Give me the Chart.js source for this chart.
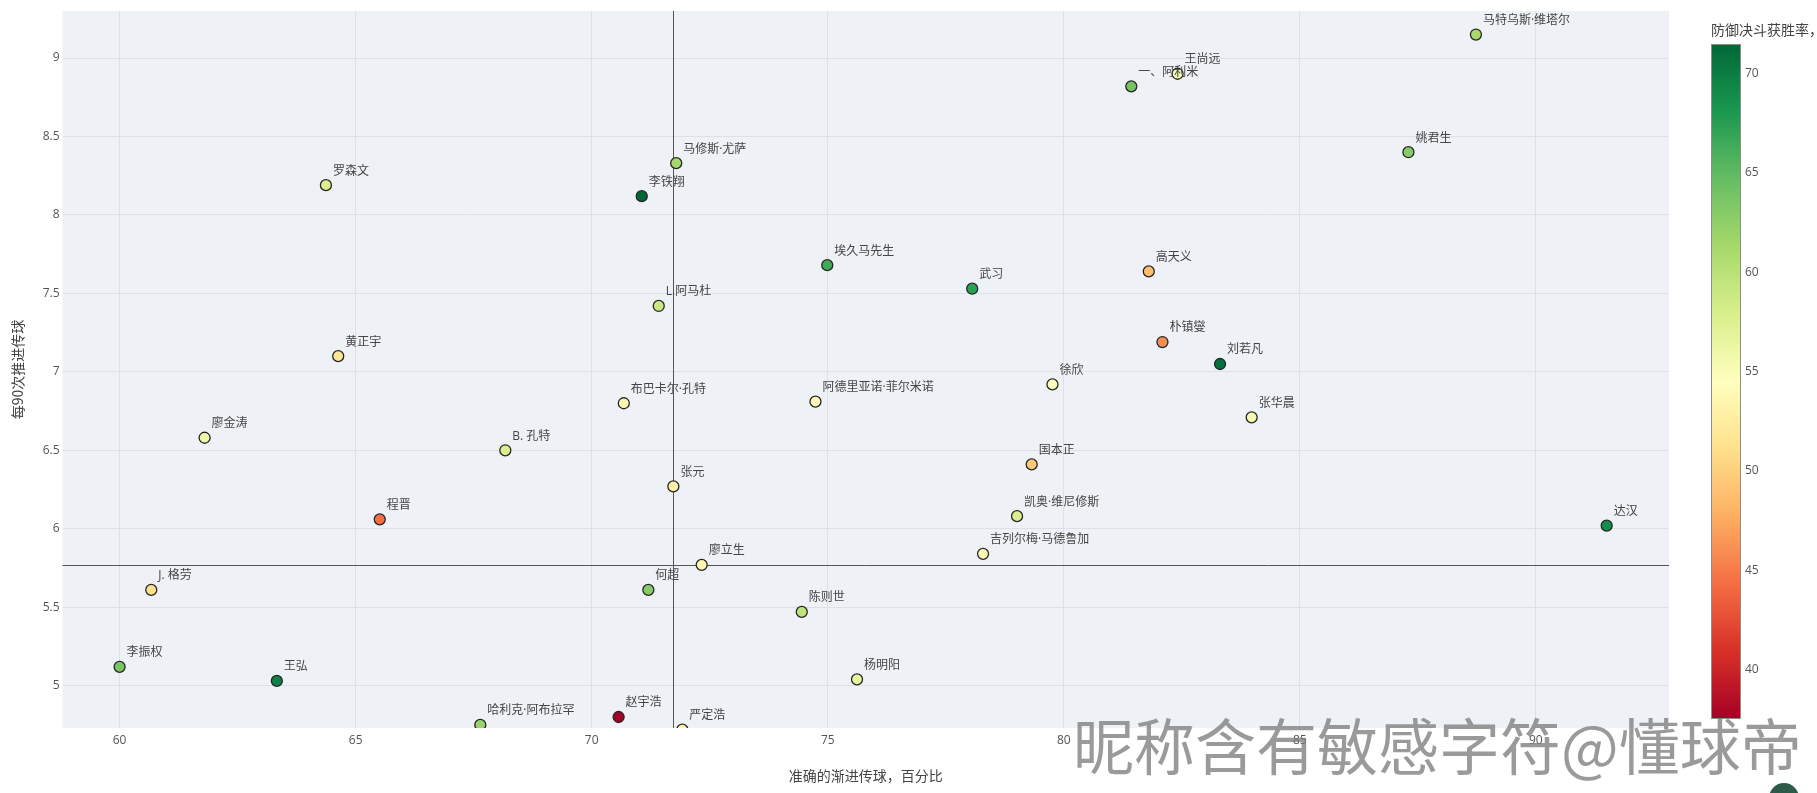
<!DOCTYPE html>
<html><head><meta charset="utf-8">
<script src="https://cdn.jsdelivr.net/npm/chart.js@4.4.1/dist/chart.umd.min.js"></script>
<style>html,body{margin:0;padding:0;background:#fff;overflow:hidden}canvas{display:block}</style>
</head><body>
<canvas id="c" width="1817" height="793"></canvas>
<script>
const players = ['罗森文','马修斯·尤萨','李铁翔','L.阿马杜','黄正宇','王尚远','一、阿利米','埃久马先生','武习','高天义','朴镇燮','刘若凡','徐欣','布巴卡尔·孔特','阿德里亚诺·菲尔米诺','张华晨','国本正','张元','凯奥·维尼修斯','吉列尔梅·马德鲁加','廖立生','何超','陈则世','杨明阳','赵宇浩','严定浩','廖金涛','B. 孔特','程晋','J. 格劳','李振权','王弘','哈利克·阿布拉罕','马特乌斯·维塔尔','姚君生','达汉'];
const passAccuracy = [64.37,71.79,71.06,71.42,64.63,82.41,81.43,74.99,78.06,81.80,82.09,83.31,79.76,70.68,74.74,83.98,79.32,71.73,79.01,78.29,72.33,71.20,74.45,75.62,70.57,71.92,61.80,68.17,65.51,60.67,60.00,63.33,67.64,88.73,87.30,91.50];
const progPasses90 = [8.19,8.33,8.12,7.42,7.10,8.90,8.82,7.68,7.53,7.64,7.19,7.05,6.92,6.80,6.81,6.71,6.41,6.27,6.08,5.84,5.77,5.61,5.47,5.04,4.80,4.72,6.58,6.50,6.06,5.61,5.12,5.03,4.75,9.15,8.40,6.02];
const duelWinRate = [57.6,61.3,71.5,59.0,51.8,55.5,64.0,66.4,67.4,48.7,46.0,70.8,54.5,53.8,54.0,55.5,49.5,52.8,57.9,53.8,53.5,63.0,59.6,56.5,37.5,53.5,55.9,57.9,44.3,51.0,63.7,69.8,62.0,61.3,63.0,68.8];
const xTicks = [60,65,70,75,80,85,90];
const yTicks = [5,5.5,6,6.5,7,7.5,8,8.5,9];
const colorTicks = [40,45,50,55,60,65,70];
const xMean = 71.73;
const yMean = 5.77;

const RdYlGn = [[165,0,38],[215,48,39],[244,109,67],[253,174,97],[254,224,139],[255,255,191],[217,239,139],[166,217,106],[102,189,99],[26,152,80],[0,104,55]];
function cmap(t){
  t=Math.max(0,Math.min(1,t));
  const p=t*(RdYlGn.length-1), i=Math.min(Math.floor(p),RdYlGn.length-2), f=p-i;
  const a=RdYlGn[i], b=RdYlGn[i+1];
  return 'rgb('+a.map((v,k)=>Math.round(v+(b[k]-v)*f)).join(',')+')';
}
const cMin = Math.min(...duelWinRate), cMax = Math.max(...duelWinRate);
const pointColors = duelWinRate.map(v=>cmap((v-cMin)/(cMax-cMin)));
const FONT = '"Open Sans","Noto Sans CJK SC",sans-serif';
const CJK = '"Noto Sans CJK SC","Open Sans",sans-serif';

const bgPlugin = {id:'bg', beforeDraw(chart){
  const {ctx, chartArea:a} = chart;
  ctx.save(); ctx.fillStyle='#eef1f5'; ctx.fillRect(a.left,a.top,a.right-a.left,a.bottom-a.top); ctx.restore();
}};
const meanPlugin = {id:'mean', beforeDatasetsDraw(chart){
  const {ctx, chartArea:a, scales} = chart;
  const xp = Math.round(scales.x.getPixelForValue(xMean))+0.5;
  const yp = Math.round(scales.y.getPixelForValue(yMean))+0.5;
  ctx.save(); ctx.strokeStyle='#555'; ctx.lineWidth=1;
  ctx.beginPath(); ctx.moveTo(xp,a.top); ctx.lineTo(xp,a.bottom); ctx.moveTo(a.left,yp); ctx.lineTo(a.right,yp); ctx.stroke();
  ctx.restore();
}};
const labelPlugin = {id:'lbl', afterDatasetsDraw(chart){
  const ctx = chart.ctx, meta = chart.getDatasetMeta(0);
  ctx.save(); ctx.font='12px '+FONT; ctx.fillStyle='#444'; ctx.textAlign='left'; ctx.textBaseline='middle';
  meta.data.forEach((el,i)=>{ ctx.fillText(players[i], el.x+7, el.y-14); });
  ctx.restore();
}};
const colorbarPlugin = {id:'cbar', afterDraw(chart){
  const ctx = chart.ctx;
  const left=1711, w=30, top=44, bottom=719;
  ctx.save();
  const g = ctx.createLinearGradient(0,bottom,0,top);
  for(let i=0;i<=40;i++){ g.addColorStop(i/40, cmap(i/40)); }
  ctx.fillStyle=g; ctx.fillRect(left,top,w,bottom-top);
  ctx.strokeStyle='#8f8f88'; ctx.lineWidth=1; ctx.strokeRect(left+0.5,top+0.5,w-1,bottom-top-1);
  ctx.font='12px '+FONT; ctx.fillStyle='#555'; ctx.textAlign='left'; ctx.textBaseline='middle';
  colorTicks.forEach(v=>{ const y = bottom-(v-cMin)/(cMax-cMin)*(bottom-top); ctx.fillText(String(v), left+w+4, y); });
  ctx.font='14px '+CJK; ctx.fillStyle='#444';
  ctx.fillText('防御决斗获胜率，百分比', 1711, 30);
  // watermark
  ctx.font='61px '+CJK; ctx.fillStyle='rgba(125,125,125,0.78)'; ctx.textBaseline='alphabetic';
  ctx.fillText('昵称含有敏感字符@懂球帝', 1073, 770);
  // avatar
  ctx.beginPath(); ctx.arc(1784,798,15,0,Math.PI*2); ctx.fillStyle='#2e5a48'; ctx.fill();
  ctx.restore();
}};

new Chart(document.getElementById('c'), {
  type:'scatter',
  data:{datasets:[{
    data: passAccuracy.map((x,i)=>({x:x, y:progPasses90[i]})),
    pointRadius:5.5, pointBorderWidth:1.3, pointBorderColor:'#262626',
    pointBackgroundColor: pointColors, clip:0
  }]},
  options:{
    responsive:false, animation:false, devicePixelRatio:1, events:[],
    layout:{padding:{top:11,right:148,left:0,bottom:0}},
    plugins:{legend:{display:false}, tooltip:{enabled:false}},
    scales:{
      x:{type:'linear', min:58.79, max:92.82,
        afterBuildTicks:s=>{s.ticks=xTicks.map(v=>({value:v}));},
        afterFit:s=>{s.height=65;},
        grid:{color:'#dce1e8', drawTicks:false}, border:{display:false},
        ticks:{padding:5, color:'#555', font:{size:12,family:FONT}, callback:v=>String(v), maxRotation:0, autoSkip:false},
        title:{display:true, text:'准确的渐进传球，百分比', color:'#444', font:{size:14,family:CJK}, padding:{top:0,bottom:8.6}}
      },
      y:{type:'linear', min:4.73, max:9.30,
        afterBuildTicks:s=>{s.ticks=yTicks.map(v=>({value:v}));},
        afterFit:s=>{s.width=62.5;},
        grid:{color:'#dce1e8', drawTicks:false}, border:{display:false},
        ticks:{padding:3, color:'#555', font:{size:12,family:FONT}, callback:v=>String(v), autoSkip:false},
        title:{display:true, text:'每90次推进传球', color:'#444', font:{size:14,family:CJK}, padding:{top:9.6,bottom:0}}
      }
    }
  },
  plugins:[bgPlugin, meanPlugin, labelPlugin, colorbarPlugin]
});
</script>
</body></html>
